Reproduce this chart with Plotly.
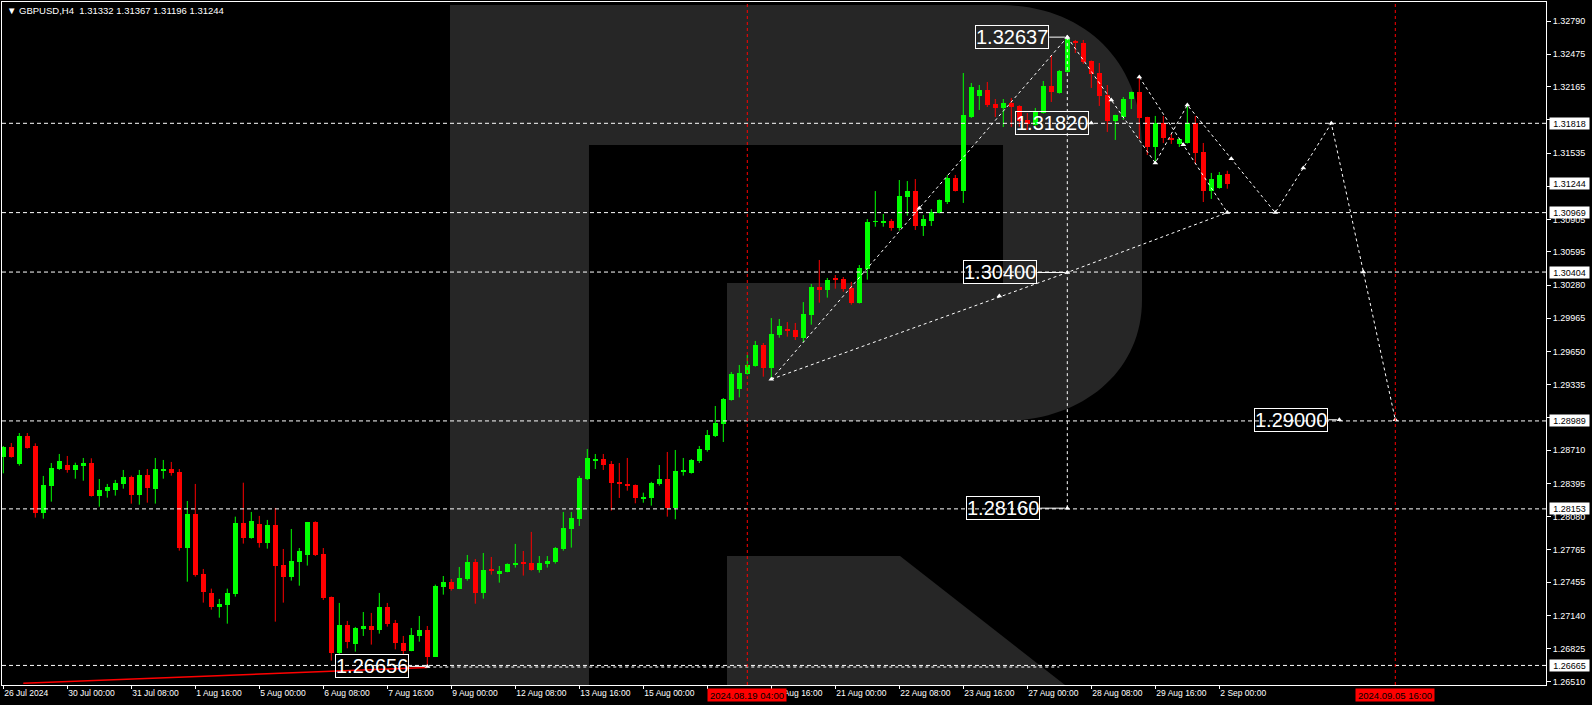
import plotly.graph_objects as go

# ---------------- data ----------------
SYMBOL = "GBPUSD,H4"

opens = [1.28649,1.28741,1.28583,1.28846,1.28751,1.28117,1.28374,1.28535,1.28570,1.28526,
         1.28564,1.28589,1.28279,1.28326,1.28336,1.28393,1.28456,1.28288,1.28475,1.28345,
         1.28516,1.28532,1.28504,1.27785,1.28105,1.27538,1.27357,1.27224,1.27243,1.27347,
         1.28019,1.27880,1.28010,1.27832,1.28000,1.27620,1.27509,1.27652,1.27718,1.28029,
         1.27724,1.27316,1.26787,1.27050,1.26872,1.27012,1.27040,1.27002,1.27221,1.27069,
         1.26879,1.26806,1.26948,1.27002,1.26749,1.27414,1.27458,1.27395,1.27490,1.27648,
         1.27357,1.27572,1.27538,1.27557,1.27623,1.27639,1.27639,1.27576,1.27633,1.27648,
         1.27772,1.27962,1.28057,1.28437,1.28612,1.28627,1.28580,1.28409,1.28390,1.28380,
         1.28247,1.28260,1.28393,1.28437,1.28165,1.28504,1.28494,1.28608,1.28716,1.28846,
         1.28960,1.29188,1.29296,1.29438,1.29511,1.29711,1.29495,1.29809,1.29850,1.29853,
         1.29777,1.29996,1.30262,1.30237,1.30348,1.30338,1.30252,1.30110,1.30433,1.30880,
         1.30873,1.30889,1.30823,1.31117,1.31174,1.30845,1.30892,1.30965,1.31070,1.31298,
         1.31175,1.31878,1.32078,1.32135,1.32002,1.31967,1.32011,1.31983,1.31850,1.31802,
         1.31916,1.32173,1.32106,1.32306,1.32600,1.32581,1.32410,1.32296,1.32087,1.31840,
         1.31878,1.32049,1.32116,1.31878,1.31593,1.31821,1.31679,1.31622,1.31631,1.31821,
         1.31545,1.31175,1.31203,1.31332]
highs = [1.28751,1.28779,1.28874,1.28874,1.28776,1.28466,1.28589,1.28675,1.28656,1.28592,
         1.28637,1.28634,1.28437,1.28390,1.28428,1.28523,1.28469,1.28523,1.28532,1.28637,
         1.28618,1.28599,1.28532,1.28228,1.28390,1.27582,1.27395,1.27297,1.27395,1.28079,
         1.28402,1.28124,1.28086,1.28048,1.28162,1.27772,1.27962,1.27781,1.28029,1.28035,
         1.27781,1.27320,1.27259,1.27088,1.27031,1.27173,1.27164,1.27354,1.27259,1.27097,
         1.26945,1.27021,1.27135,1.27040,1.27433,1.27515,1.27487,1.27601,1.27715,1.27677,
         1.27734,1.27696,1.27610,1.27635,1.27820,1.27753,1.27934,1.27705,1.27705,1.27791,
         1.28124,1.28124,1.28466,1.28722,1.28675,1.28675,1.28608,1.28589,1.28637,1.28385,
         1.28307,1.28410,1.28570,1.28694,1.28713,1.28637,1.28627,1.28751,1.28903,1.29131,
         1.29207,1.29454,1.29521,1.29616,1.29749,1.29730,1.29967,1.29958,1.29929,1.29920,
         1.30119,1.30291,1.30519,1.30348,1.30376,1.30357,1.30310,1.30471,1.30908,1.31174,
         1.30956,1.30908,1.31279,1.31269,1.31288,1.30946,1.31003,1.31095,1.31327,1.31327,
         1.32296,1.32201,1.32182,1.32211,1.32049,1.32049,1.32059,1.31990,1.31916,1.31964,
         1.32220,1.32467,1.32325,1.32637,1.32610,1.32610,1.32415,1.32391,1.32182,1.31900,
         1.32068,1.32120,1.32258,1.31880,1.31888,1.31888,1.31717,1.31679,1.32002,1.31888,
         1.31631,1.31346,1.31355,1.31367]
lows = [1.28491,1.28640,1.28564,1.28726,1.28070,1.28060,1.28222,1.28523,1.28497,1.28440,
        1.28421,1.28270,1.28174,1.28260,1.28279,1.28345,1.28203,1.28193,1.28212,1.28203,
        1.28440,1.28469,1.27756,1.27461,1.27509,1.27262,1.27195,1.27119,1.27062,1.27319,
        1.27823,1.27870,1.27785,1.27775,1.27081,1.27262,1.27471,1.27423,1.27614,1.27705,
        1.27287,1.26711,1.26771,1.26828,1.26796,1.26945,1.26863,1.26967,1.27034,1.26818,
        1.26768,1.26800,1.26891,1.26656,1.26745,1.27338,1.27376,1.27390,1.27471,1.27252,
        1.27300,1.27528,1.27452,1.27550,1.27595,1.27519,1.27566,1.27547,1.27595,1.27633,
        1.27756,1.27785,1.27991,1.28428,1.28532,1.28523,1.28136,1.28257,1.28326,1.28206,
        1.28212,1.28184,1.28374,1.28079,1.28054,1.28469,1.28488,1.28589,1.28697,1.28836,
        1.28789,1.29182,1.29213,1.29430,1.29505,1.29410,1.29378,1.29780,1.29790,1.29758,
        1.29739,1.29904,1.30113,1.30161,1.30246,1.30218,1.30094,1.30105,1.30332,1.30835,
        1.30835,1.30797,1.30797,1.30940,1.30804,1.30747,1.30842,1.30962,1.31051,1.31170,
        1.31061,1.31869,1.31945,1.31973,1.31878,1.31783,1.31783,1.31786,1.31755,1.31795,
        1.31910,1.32021,1.32100,1.32300,1.32486,1.32382,1.32154,1.31983,1.31736,1.31660,
        1.31850,1.31954,1.31669,1.31517,1.31441,1.31631,1.31622,1.31593,1.31625,1.31431,
        1.31070,1.31099,1.31196,1.31196]
closes = [1.28745,1.28649,1.28846,1.28735,1.28117,1.28380,1.28542,1.28608,1.28526,1.28570,
          1.28589,1.28279,1.28333,1.28361,1.28399,1.28456,1.28288,1.28475,1.28355,1.28532,
          1.28532,1.28497,1.27785,1.28105,1.27528,1.27366,1.27224,1.27249,1.27357,1.28019,
          1.27880,1.28038,1.27832,1.28000,1.27614,1.27509,1.27658,1.27753,1.28029,1.27715,
          1.27309,1.26787,1.27050,1.26891,1.27021,1.27040,1.27005,1.27221,1.27062,1.26882,
          1.26799,1.26955,1.27002,1.26749,1.27420,1.27458,1.27395,1.27496,1.27648,1.27357,
          1.27572,1.27566,1.27563,1.27629,1.27639,1.27633,1.27576,1.27639,1.27658,1.27781,
          1.27972,1.28067,1.28447,1.28637,1.28627,1.28570,1.28402,1.28393,1.28374,1.28260,
          1.28269,1.28402,1.28437,1.28165,1.28513,1.28523,1.28618,1.28722,1.28855,1.28969,
          1.29198,1.29435,1.29445,1.29521,1.29711,1.29495,1.29815,1.29891,1.29847,1.29787,
          1.30005,1.30262,1.30237,1.30329,1.30332,1.30246,1.30110,1.30443,1.30880,1.30889,
          1.30889,1.30823,1.31127,1.31174,1.30845,1.30908,1.30975,1.31089,1.31298,1.31175,
          1.31897,1.32163,1.32135,1.31992,1.31967,1.32011,1.31976,1.31840,1.31812,1.31935,
          1.32173,1.32116,1.32315,1.32619,1.32581,1.32401,1.32287,1.32078,1.31840,1.31897,
          1.32049,1.32116,1.31869,1.31593,1.31821,1.31679,1.31660,1.31669,1.31821,1.31536,
          1.31175,1.31289,1.31327,1.31244]

time_tick_bars = [0, 8, 16, 24, 32, 40, 48, 56, 64, 72, 80, 88, 96, 104, 112, 120, 128, 136, 144, 152]
# the 16 Aug 08:00 label sits fully under the red time-line label in the reference
time_tick_labels = ["26 Jul 2024", "30 Jul 00:00", "31 Jul 08:00", "1 Aug 16:00", "5 Aug 00:00",
                    "6 Aug 08:00", "7 Aug 16:00", "9 Aug 00:00", "12 Aug 08:00", "13 Aug 16:00",
                    "15 Aug 00:00", "", "19 Aug 16:00", "21 Aug 00:00", "22 Aug 08:00",
                    "23 Aug 16:00", "27 Aug 00:00", "28 Aug 08:00", "29 Aug 16:00", "2 Sep 00:00"]

price_ticks = [1.32790, 1.32475, 1.32165, 1.31850, 1.31535, 1.31220, 1.30905, 1.30595, 1.30280,
               1.29965, 1.29650, 1.29335, 1.29020, 1.28710, 1.28395, 1.28080, 1.27765, 1.27455,
               1.27140, 1.26825, 1.26510]
# ticks whose labels are completely covered by price boxes in the reference
hidden_price_ticks = [1.31850, 1.31220, 1.29020]

level_prices = [1.31818, 1.30969, 1.30404, 1.28989, 1.28153, 1.26665]

vline_bars = [93, 174]
vline_labels = ["2024.08.19 04:00", "2024.09.05 16:00"]

# forecast / wave drawing (bar index, price)
rise_x, rise_y = [96, 133], [1.29385, 1.32637]
trend_x, trend_y = [96, 133, 153], [1.29385, 1.30400, 1.30969]
drop_x, drop_y = [133, 133], [1.32637, 1.28160]
path_x = [133, 144, 148, 159, 166, 170, 174]
path_y = [1.32637, 1.31441, 1.31992, 1.30969, 1.31818, 1.30404, 1.29000]
wave_x, wave_y = [142, 153], [1.32258, 1.30969]
support_x, support_y = [2.5, 53], [1.26495, 1.26645]
low_ray_x, low_ray_y = [53, 132], [1.26650, 1.26650]

# big price labels: text, anchor bar, price, pixel offset of the box's right edge
label_texts = ["1.32637", "1.31820", "1.30400", "1.28160", "1.29000", "1.26656"]
label_bars = [133, 136, 133, 133, 167, 53]
label_prices = [1.32637, 1.31820, 1.30400, 1.28160, 1.29000, 1.26656]
label_shift = [-18, -2, -30, -27, -11, -18]

# ---------------- figure ----------------
W, H = 1592, 705
ML, MR, MT, MB = 2, 46, 2, 20
PW, PH = W - ML - MR, H - MT - MB
BAR_PX = 8.0
X0_PX = 3.3
x_range = [(ML - X0_PX) / BAR_PX, (W - MR - X0_PX) / BAR_PX]
y_range = [1.26479, 1.32971]

GREEN = "#00ff00"
RED = "#ff0000"
FONT = "Liberation Sans"
SMALL = 9

n = len(opens)
idx = list(range(n))
up = [closes[i] >= opens[i] for i in idx]

fig = go.Figure()

# wicks
for flag, col in ((True, GREEN), (False, RED)):
    xs, ys = [], []
    for i in idx:
        if up[i] == flag:
            xs += [i, i, None]
            ys += [lows[i], highs[i], None]
    fig.add_trace(go.Scatter(x=xs, y=ys, mode="lines", line=dict(color=col, width=1),
                             hoverinfo="skip", showlegend=False))

# bodies
bases = [min(opens[i], closes[i]) for i in idx]
heights = [max(abs(closes[i] - opens[i]), 0.00009) for i in idx]
fig.add_trace(go.Bar(x=idx, y=heights, base=bases, width=0.62,
                     marker=dict(color=[GREEN if u else RED for u in up], line=dict(width=0)),
                     hoverinfo="skip", showlegend=False))

# wave / forecast dotted lines
dot = dict(color="white", width=1, dash="3px,3px")
lines = [(rise_x, rise_y), (trend_x, trend_y), (drop_x, drop_y), (path_x, path_y), (wave_x, wave_y)]
for xs, ys in lines:
    fig.add_trace(go.Scatter(x=xs, y=ys, mode="lines", line=dot, hoverinfo="skip", showlegend=False))
fig.add_trace(go.Scatter(x=low_ray_x, y=low_ray_y, mode="lines",
                         line=dict(color="white", width=1, dash="3px,3px"),
                         hoverinfo="skip", showlegend=False))
fig.add_trace(go.Scatter(x=support_x, y=support_y, mode="lines", line=dict(color=RED, width=1.6),
                         hoverinfo="skip", showlegend=False))

# vertex markers
mk_x = path_x + [96, 142, 153] + label_bars
mk_y = path_y + [1.29385, 1.32258, 1.30969] + label_prices
# direction arrows half-way along the longer wave segments
for xs, ys in [(rise_x, rise_y), ([trend_x[0], trend_x[-1]], [trend_y[0], trend_y[-1]]), (wave_x, wave_y)]:
    mk_x.append((xs[0] + xs[-1]) / 2)
    mk_y.append((ys[0] + ys[-1]) / 2)
for k in (0, 2, 3):
    mk_x.append((path_x[k] + path_x[k + 1]) / 2)
    mk_y.append((path_y[k] + path_y[k + 1]) / 2)
fig.add_trace(go.Scatter(x=mk_x, y=mk_y, mode="markers",
                         marker=dict(symbol="triangle-up", size=5, color="white"),
                         hoverinfo="skip", showlegend=False))

# connectors from big labels to their anchor points
for b, p, s in zip(label_bars, label_prices, label_shift):
    fig.add_trace(go.Scatter(x=[b + s / BAR_PX, b - 0.3], y=[p, p], mode="lines",
                             line=dict(color="white", width=1), hoverinfo="skip", showlegend=False))

shapes = []

# --- watermark logo (pixel geometry -> paper) ---
def P(px, py):
    return f"{(px - ML) / PW:.5f},{1 - (py - MT) / PH:.5f}"

LOGO = "#262626"
outer = (f"M {P(450,5)} L {P(1000,5)} C {P(1085,5)} {P(1142,62)} {P(1142,145)} "
         f"L {P(1142,300)} C {P(1142,372)} {P(1082,421)} {P(1003,421)} L {P(727,421)} "
         f"L {P(727,685)} L {P(450,685)} Z")
hole = (f"M {P(589,145)} L {P(1003,145)} L {P(1003,283)} L {P(727,283)} L {P(727,685)} "
        f"L {P(589,685)} Z")
leg = f"M {P(727,556)} L {P(900,556)} L {P(1065,685)} L {P(727,685)} Z"
shapes.append(dict(type="path", path=outer, xref="paper", yref="paper", fillcolor=LOGO,
                   line=dict(width=0), layer="below"))
shapes.append(dict(type="path", path=hole, xref="paper", yref="paper", fillcolor="#000000",
                   line=dict(width=0), layer="below"))
shapes.append(dict(type="path", path=leg, xref="paper", yref="paper", fillcolor=LOGO,
                   line=dict(width=0), layer="below"))

# horizontal levels
for lv in level_prices:
    shapes.append(dict(type="line", xref="paper", x0=0, x1=1, yref="y", y0=lv, y1=lv,
                       line=dict(color="white", width=1, dash="4px,3px"), layer="above"))
# vertical time lines
for vb in vline_bars:
    shapes.append(dict(type="line", xref="x", x0=vb, x1=vb, yref="paper", y0=0, y1=1,
                       line=dict(color=RED, width=1, dash="3px,3px"), layer="above"))

annotations = []
# header
annotations.append(dict(xref="paper", yref="paper", x=(5 - ML) / PW, y=1 - (10.5 - MT) / PH,
                        xanchor="left", yanchor="middle", showarrow=False,
                        text=f"▼ {SYMBOL}  {opens[-1]:.5f} {highs[-1]:.5f} {lows[-1]:.5f} {closes[-1]:.5f}",
                        font=dict(family=FONT, size=9.5, color="white")))
# right axis boxes
for lv in level_prices + [closes[-1]]:
    annotations.append(dict(xref="paper", yref="y", x=1, y=lv, xanchor="left", yanchor="middle",
                            xshift=3, showarrow=False, text=f"{lv:.5f}", bgcolor="white",
                            width=37, height=9, borderpad=1,
                            font=dict(family=FONT, size=SMALL, color="black")))
# time line labels
for vb, vt in zip(vline_bars, vline_labels):
    annotations.append(dict(xref="x", yref="paper", x=vb, y=0, yanchor="top", xanchor="center",
                            yshift=-3, showarrow=False, text=vt, bgcolor=RED, width=76, height=10,
                            borderpad=1, font=dict(family=FONT, size=9.5, color="black")))
# big labels
for t, b, p, s in zip(label_texts, label_bars, label_prices, label_shift):
    annotations.append(dict(xref="x", yref="y", x=b, y=p, xanchor="right", yanchor="middle",
                            xshift=s, showarrow=False, text=t, bordercolor="white", borderwidth=1,
                            borderpad=0, font=dict(family=FONT, size=20, color="white")))

fig.update_layout(
    width=W, height=H,
    margin=dict(l=ML, r=MR, t=MT, b=MB, pad=0),
    paper_bgcolor="black", plot_bgcolor="black",
    shapes=shapes, annotations=annotations,
    showlegend=False, bargap=0,
    font=dict(family=FONT, size=SMALL, color="white"),
)
fig.update_xaxes(range=x_range, tickmode="array", tickvals=time_tick_bars, ticktext=time_tick_labels,
                 ticks="outside", ticklen=3, tickcolor="white", ticklabelposition="outside right",
                 tickfont=dict(family=FONT, size=8.5, color="white"),
                 showgrid=False, zeroline=False, showline=True, linecolor="white", linewidth=1,
                 mirror=True, fixedrange=True)
fig.update_yaxes(range=y_range, side="right", tickmode="array", tickvals=price_ticks,
                 ticktext=["" if v in hidden_price_ticks else f"{v:.5f}" for v in price_ticks],
                 ticks="outside", ticklen=4, tickcolor="white",
                 tickfont=dict(family=FONT, size=SMALL, color="white"),
                 showgrid=False, zeroline=False, showline=True, linecolor="white", linewidth=1,
                 mirror=True, fixedrange=True)

fig.write_html("out.html", config={"displayModeBar": False},
               post_script="document.body.style.margin='0px';document.body.style.overflow='hidden';")
